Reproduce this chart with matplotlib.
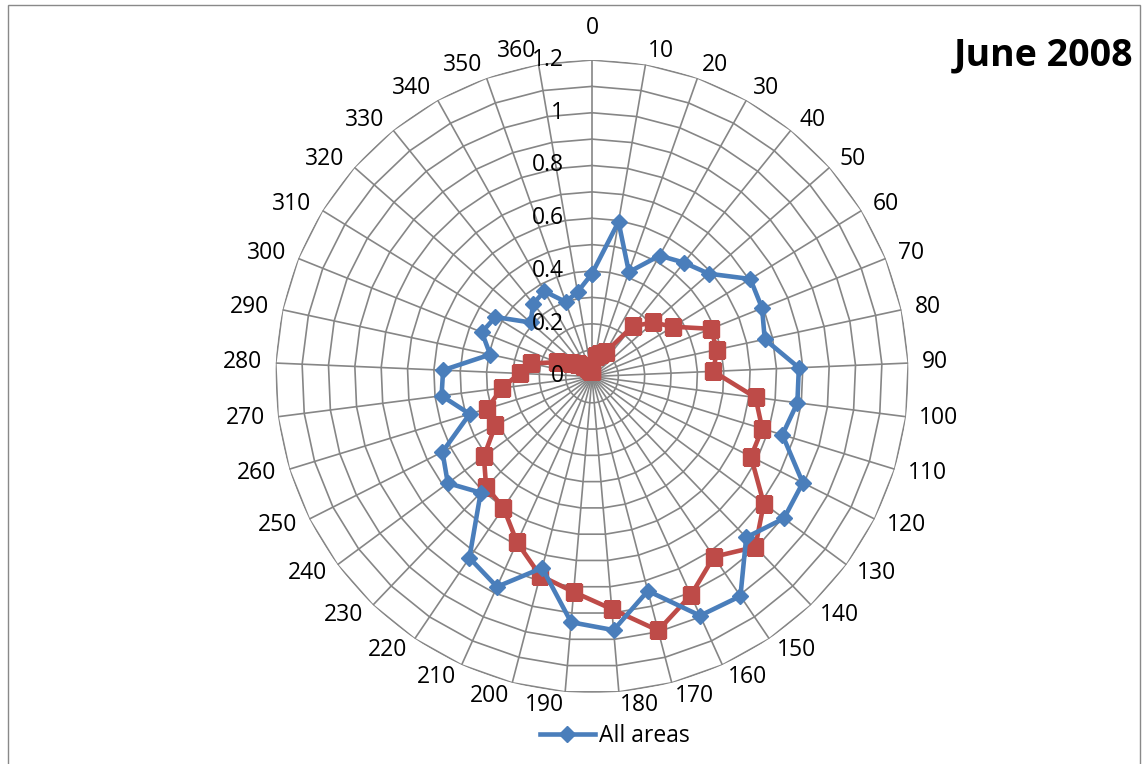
import numpy as np
import matplotlib
matplotlib.use("Agg")
import matplotlib.pyplot as plt
from matplotlib.patches import Rectangle
from matplotlib.transforms import ScaledTranslation

plt.rcParams['font.family'] = ['Open Sans', 'DejaVu Sans']

# categories 0..360 step 10 (Excel radar, 37 spokes)
categories = [str(v) for v in range(0, 361, 10)]

all_areas = [0.39, 0.595, 0.42, 0.525, 0.555, 0.59, 0.705, 0.695, 0.67, 0.785,
             0.785, 0.755, 0.895, 0.905, 0.845, 1.005, 0.995, 0.84, 0.965, 0.935,
             0.75, 0.875, 0.83, 0.61, 0.68, 0.635, 0.485, 0.575, 0.565, 0.395,
             0.45, 0.43, 0.31, 0.355, 0.37, 0.30, 0.325]

second = [0.02, 0.08, 0.09, 0.105, 0.245, 0.31, 0.36, 0.485, 0.485, 0.46,
          0.625, 0.675, 0.675, 0.81, 0.895, 0.825, 0.91, 0.995, 0.885, 0.82,
          0.78, 0.69, 0.60, 0.58, 0.51, 0.41, 0.415, 0.345, 0.275, 0.235,
          0.145, 0.095, 0.07, 0.05, 0.04, 0.03, 0.02]

r_ticks = [0, 0.2, 0.4, 0.6, 0.8, 1.0, 1.2]
r_tick_labels = ['0', '0.2', '0.4', '0.6', '0.8', '1', '1.2']
rings = [i / 10 for i in range(1, 13)]

W, H = 1144, 764
fig = plt.figure(figsize=(W / 100, H / 100), dpi=100)

cx, cy, R = 592, 376.5, 316.5
ax = fig.add_axes([(cx - R) / W, (H - cy - R) / H, 2 * R / W, 2 * R / H], polar=True)
ax.set_theta_zero_location('N')
ax.set_theta_direction(-1)
ax.set_ylim(0, 1.2)

n = len(categories)
theta = np.arange(n) * 2 * np.pi / n
theta_c = np.append(theta, theta[0])

grid_col = '#868686'
ax.set_xticks(theta)
ax.set_xticklabels([])
ax.set_yticks([])
ax.xaxis.grid(True, color=grid_col, lw=1.2)
ax.spines['polar'].set_visible(False)

# polygon rings like excel
for rv in rings:
    ax.plot(theta_c, [rv] * (n + 1), color=grid_col, lw=1.2, zorder=1)

fs = 16.5
# radial labels left of the vertical axis
off = ScaledTranslation(-0.28, 0, fig.dpi_scale_trans)
for v, lab in zip(r_ticks, r_tick_labels):
    ax.text(0, v, lab, ha='right', va='center', fontsize=fs,
            transform=ax.transData + off, zorder=5)

# category labels
for i, (t, lab) in enumerate(zip(theta, categories)):
    s = np.sin(t)
    if i == 0:
        ax.text(t, 1.323, lab, ha='center', va='center', fontsize=fs)
    else:
        ax.text(t, 1.251, lab, ha='left' if s > 0 else 'right', va='center', fontsize=fs)

blue = '#4A7EBB'
red = '#BE4B48'
ax.plot(theta_c, np.append(second, second[0]), color=red, lw=3.3, marker='s',
        markersize=11, zorder=3)
line_b, = ax.plot(theta_c, np.append(all_areas, all_areas[0]), color=blue, lw=3.3,
                  marker='D', markersize=8.5, zorder=4, label='All areas')

fig.text(1133 / W, 1 - 65 / H, 'June 2008', ha='right', va='baseline',
         fontsize=27, fontweight='bold')

fig.legend(handles=[line_b], loc='center', bbox_to_anchor=(615 / W, 1 - 736 / H),
           frameon=False, fontsize=fs, numpoints=1, handlelength=2.4,
           handletextpad=0.2)

fig.patches.append(Rectangle((8 / W, -0.01), (1140 - 8) / W, (H - 5) / H + 0.01,
                             transform=fig.transFigure, fill=False,
                             edgecolor='#898989', lw=1))

fig.savefig('out.png', dpi=100)
